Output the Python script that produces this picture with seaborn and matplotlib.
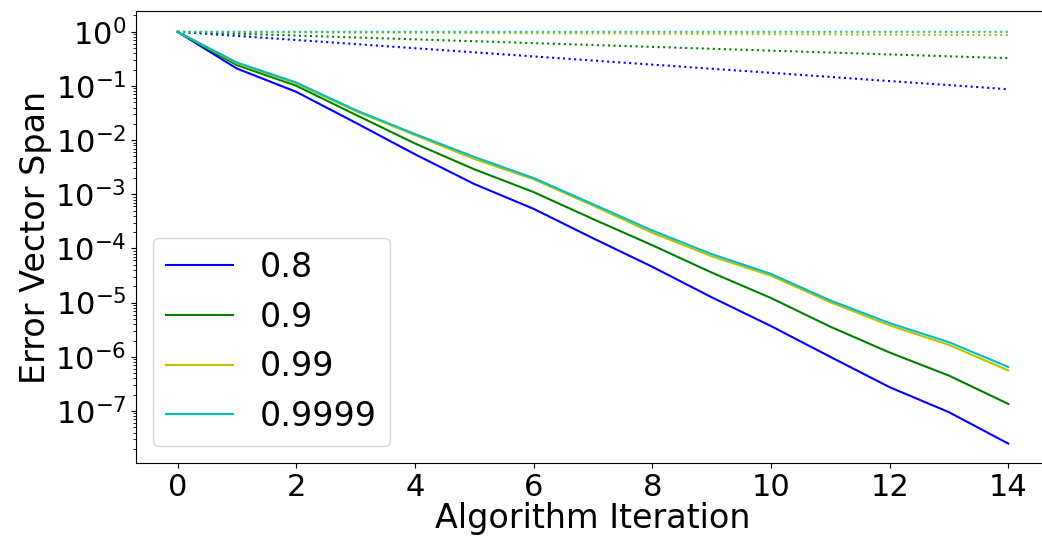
import pandas as pd
import matplotlib
matplotlib.use("Agg")
import matplotlib.pyplot as plt
import matplotlib.ticker as mticker
import seaborn as sns

# Werte
iterations = list(range(15))
gammas = ["0.8", "0.9", "0.99", "0.9999"]
farben = {"0.8": "b", "0.9": "g", "0.99": "y", "0.9999": "c"}

# durchgezogene Linien (Algorithmus)
span_08 = [1.0, 0.21, 7.8e-2, 2.1e-2, 5.5e-3, 1.55e-3, 5.4e-4, 1.55e-4,
           4.6e-5, 1.26e-5, 3.7e-6, 1.0e-6, 2.75e-7, 9.5e-8, 2.5e-8]
span_09 = [1.0, 0.243, 0.101, 2.95e-2, 8.7e-3, 2.9e-3, 1.1e-3, 3.5e-4,
           1.15e-4, 3.6e-5, 1.22e-5, 3.6e-6, 1.2e-6, 4.5e-7, 1.35e-7]
span_099 = [1.0, 0.263, 0.111, 3.45e-2, 1.24e-2, 4.5e-3, 1.9e-3, 6.2e-4,
            1.95e-4, 7.2e-5, 3.15e-5, 1.02e-5, 3.8e-6, 1.66e-6, 5.6e-7]
span_09999 = [1.0, 0.272, 0.116, 3.6e-2, 1.3e-2, 4.9e-3, 2.0e-3, 6.6e-4,
              2.15e-4, 7.9e-5, 3.4e-5, 1.1e-5, 4.2e-6, 1.86e-6, 6.5e-7]

# gepunktete Linien (Vergleich)
ref_08 = [1.0, 0.84, 0.706, 0.593, 0.498, 0.418, 0.351, 0.295,
          0.248, 0.208, 0.175, 0.147, 0.123, 0.104, 0.087]
ref_09 = [1.0, 0.923, 0.852, 0.786, 0.726, 0.670, 0.618, 0.571,
          0.527, 0.486, 0.449, 0.414, 0.382, 0.353, 0.326]
ref_099 = [1.0, 0.99, 0.980, 0.970, 0.961, 0.951, 0.941, 0.932,
           0.923, 0.914, 0.904, 0.895, 0.886, 0.878, 0.869]
ref_09999 = [1.0, 0.9999, 0.9998, 0.9997, 0.9996, 0.9995, 0.9994, 0.9993,
             0.9992, 0.9991, 0.999, 0.9989, 0.9988, 0.9987, 0.9986]

solid = {"0.8": span_08, "0.9": span_09, "0.99": span_099, "0.9999": span_09999}
dotted = {"0.8": ref_08, "0.9": ref_09, "0.99": ref_099, "0.9999": ref_09999}

df_solid = pd.DataFrame([(k, g, v) for g in gammas for k, v in zip(iterations, solid[g])],
                        columns=["iter", "gamma", "span"])
df_dotted = pd.DataFrame([(k, g, v) for g in gammas for k, v in zip(iterations, dotted[g])],
                         columns=["iter", "gamma", "span"])

plt.rcParams["font.family"] = ["DejaVu Sans"]

fig = plt.figure(figsize=(10.42, 5.42), dpi=100)
ax = fig.add_axes([0.1305, 0.1458, 0.877, 0.834])

sns.lineplot(data=df_solid, x="iter", y="span", hue="gamma", hue_order=gammas,
             palette=farben, linewidth=1.5, ax=ax)
sns.lineplot(data=df_dotted, x="iter", y="span", hue="gamma", hue_order=gammas,
             palette=farben, linewidth=1.5, linestyle=":", legend=False, ax=ax)

ax.set_yscale("log")
ax.yaxis.set_major_locator(mticker.LogLocator(base=10, numticks=20))
ax.yaxis.set_minor_locator(mticker.LogLocator(base=10, subs=range(2, 10), numticks=20))
ax.yaxis.set_minor_formatter(mticker.NullFormatter())
ax.set_ylim(10 ** -7.96, 10 ** 0.385)
ax.set_xticks(range(0, 15, 2))
ax.tick_params(axis="both", which="major", labelsize=22, colors="black")
ax.set_xlabel("Algorithm Iteration", fontsize=24, labelpad=0, color="black")
ax.set_ylabel("Error Vector Span", fontsize=24, labelpad=2, color="black")

leg = ax.get_legend()
handles = leg.legend_handles
labels = [t.get_text() for t in leg.get_texts()]
ax.legend(handles, labels, loc="lower left", fontsize=24, title=None)

fig.savefig("out.png", dpi=100)
